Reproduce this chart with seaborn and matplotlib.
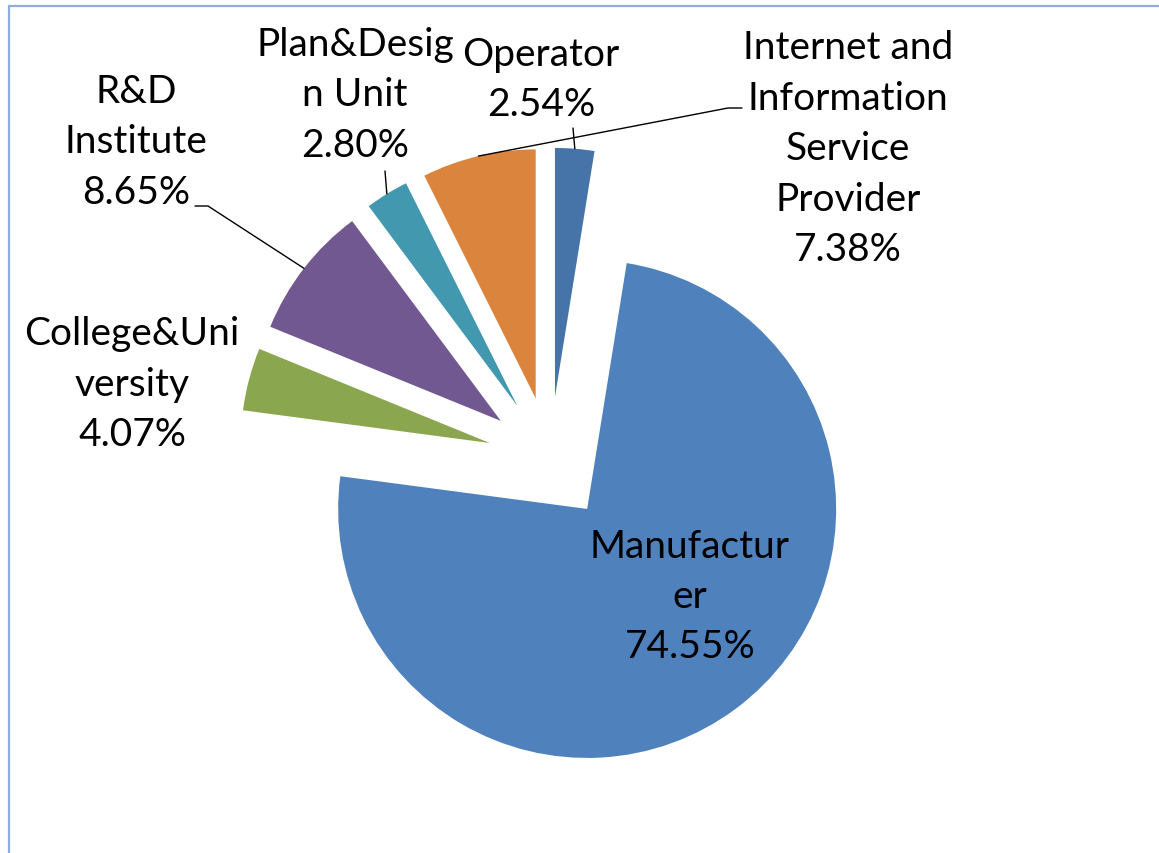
import numpy as np
import matplotlib
matplotlib.use('Agg')
import matplotlib.pyplot as plt
import matplotlib.patches as mpatches
import seaborn as sns

# Slices in Excel order (clockwise from 12 o'clock)
categories = ['Operator', 'Manufacturer', 'College&University', 'R&D Institute',
              'Plan&Design Unit', 'Internet and Information Service Provider']
shares = [2.54, 74.55, 4.07, 8.65, 2.80, 7.38]
label_texts = ['Operator\n2.54%', 'Manufactur\ner\n74.55%', 'College&Uni\nversity\n4.07%',
               'R&D\nInstitute\n8.65%', 'Plan&Desig\nn Unit\n2.80%',
               'Internet and\nInformation\nService\nProvider\n7.38%']
colors = ['#4674A8', '#4F81BD', '#8AA64E', '#725890', '#4198AF', '#DB843D']

sns.set_theme(style='white')
plt.rcParams['font.family'] = ['Lato', 'DejaVu Sans']

W, H = 1159, 854
CX, CY, R = 550, 460, 249  # pie centre / radius in pixels


def px(x, y):
    # pixel position -> data coords (pie radius = 1)
    return (x - CX) / R, (CY - y) / R


fig = plt.figure(figsize=(W / 100, H / 100), dpi=100)
ax = fig.add_axes([0, 0, 1, 1])

wedges, _ = ax.pie(shares, colors=colors, startangle=90, counterclock=False,
                   explode=[0.25] * len(shares), radius=1,
                   wedgeprops=dict(linewidth=0))
ax.set_xlim(px(0, 0)[0], px(W, 0)[0])
ax.set_ylim(px(0, H)[1], px(0, 0)[1])
ax.set_aspect('auto')
ax.axis('off')

# label centres (pixels) and leader line elbows
label_pos = [(541, 80), (690, 597), (132, 385), (136, 142), (355, 95), (848, 149)]
leaders = {
    0: [(573, 129)],
    3: [(195, 207), (208, 207)],
    4: [(385, 172)],
    5: [(742, 109), (728, 109)],
}

for i, w in enumerate(wedges):
    x, y = px(*label_pos[i])
    ax.text(x, y, label_texts[i], ha='center', va='center', fontsize=28,
            color='black', linespacing=1.5)
    if i in leaders:
        ang = np.deg2rad((w.theta1 + w.theta2) / 2)
        ex = w.center[0] + w.r * np.cos(ang)
        ey = w.center[1] + w.r * np.sin(ang)
        pts = [px(*p) for p in leaders[i]] + [(ex, ey)]
        ax.plot([p[0] for p in pts], [p[1] for p in pts], color='black', lw=1)

# chart area border
fig.patches.append(mpatches.Rectangle((8.5 / W, -0.1), 1.2, (H - 7) / H + 0.1,
                                      transform=fig.transFigure, fill=False,
                                      edgecolor='#8EADD9', linewidth=1.6))

fig.savefig('out.png', dpi=100, facecolor='white')
